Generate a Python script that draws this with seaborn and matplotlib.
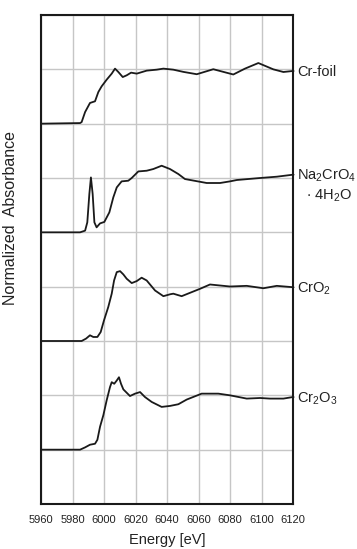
import numpy as np
import pandas as pd
import matplotlib
matplotlib.use("Agg")
import matplotlib.pyplot as plt
import seaborn as sns

# ---- data (normalized absorbance) ----
cr_foil_energy = [5960, 5984.8, 5985.8, 5988, 5991.1, 5994.3, 5996.4, 5998.5, 6001.7, 6004.9,
                  6007, 6009.1, 6011.9, 6014.4, 6017.2, 6020.8, 6027.1, 6033.5, 6037.7, 6044,
                  6050.4, 6058.9, 6069.4, 6082.1, 6089.5, 6098, 6107.5, 6113.9, 6120]
cr_foil_mu = [0, 0.011, 0.029, 0.214, 0.381, 0.412, 0.582, 0.687, 0.810, 0.921,
              1.013, 0.951, 0.858, 0.890, 0.939, 0.921, 0.976, 0.994, 1.013, 0.994,
              0.953, 0.910, 1.002, 0.905, 1.013, 1.116, 1.000, 0.951, 0.970]

na2cro4_energy = [5960, 5984.8, 5988, 5989.4, 5990.7, 5991.7, 5992.8, 5993.9, 5995.3, 5997.5,
                  6000.2, 6003.4, 6005.9, 6008.1, 6011.2, 6015.4, 6017.6, 6021.8, 6027.1, 6031.3,
                  6036.6, 6041.9, 6047.2, 6051.4, 6065.2, 6073.7, 6080, 6084.3, 6099.1, 6109.7, 6120]
na2cro4_mu = [0, 0, 0.031, 0.184, 0.706, 1.011, 0.706, 0.184, 0.092, 0.165,
              0.191, 0.368, 0.643, 0.827, 0.938, 0.950, 1.000, 1.121, 1.134, 1.165,
              1.226, 1.165, 1.073, 0.981, 0.908, 0.908, 0.938, 0.963, 1.000, 1.024, 1.061]

cro2_energy = [5960, 5985.8, 5988.6, 5991.1, 5993.2, 5995.8, 5997.9, 6000, 6002.7, 6004.9,
               6006.4, 6008.1, 6010.2, 6012.3, 6014.4, 6017.6, 6020.8, 6023.9, 6027.1, 6032.4,
               6037.7, 6042, 6044, 6049.3, 6061, 6067.3, 6080, 6090.6, 6101.2, 6109.7, 6120]
cro2_mu = [0, 0, 0.044, 0.105, 0.074, 0.074, 0.165, 0.380, 0.625, 0.871,
           1.114, 1.268, 1.286, 1.225, 1.146, 1.066, 1.103, 1.165, 1.114, 0.930,
           0.825, 0.860, 0.871, 0.825, 0.961, 1.040, 1.003, 1.015, 0.971, 1.015, 0.990]

cr2o3_energy = [5960, 5984.8, 5988, 5991.1, 5994.3, 5995.8, 5997.5, 5999.6, 6001.7, 6003.8,
                6004.9, 6006.5, 6008.1, 6009.5, 6010.8, 6012.3, 6016.5, 6019.7, 6022.9, 6026,
                6030.3, 6036.6, 6041.9, 6047.2, 6052.5, 6062, 6072.6, 6080, 6090.6, 6099.1,
                6105.4, 6113.9, 6120]
cr2o3_mu = [0, 0, 0.042, 0.091, 0.109, 0.182, 0.424, 0.636, 0.909, 1.151,
            1.242, 1.213, 1.273, 1.333, 1.213, 1.109, 0.987, 1.031, 1.060, 0.969,
            0.878, 0.787, 0.805, 0.836, 0.922, 1.031, 1.031, 1.000, 0.940, 0.951,
            0.940, 0.940, 0.969]

x_ticks = [5960, 5980, 6000, 6020, 6040, 6060, 6080, 6100, 6120]

# ---- styling ----
sns.set_theme(style="white")
plt.rcParams["font.family"] = ["Liberation Sans", "DejaVu Sans"]
plt.rcParams["mathtext.fontset"] = "custom"
plt.rcParams["mathtext.rm"] = "Liberation Sans"
plt.rcParams["mathtext.it"] = "Liberation Sans"
plt.rcParams["mathtext.default"] = "regular"

fig = plt.figure(figsize=(3.57, 5.49), dpi=100)
ax = fig.add_axes([41 / 357, 1 - 504 / 549, 252 / 357, 489 / 549])

series = [
    ("Cr-foil", cr_foil_energy, cr_foil_mu, 7),
    ("Na2CrO4", na2cro4_energy, na2cro4_mu, 5),
    ("CrO2", cro2_energy, cro2_mu, 3),
    ("Cr2O3", cr2o3_energy, cr2o3_mu, 1),
]

frames = []
for name, e, mu, off in series:
    frames.append(pd.DataFrame({"energy": e, "value": np.array(mu) + off, "sample": name}))
df = pd.concat(frames, ignore_index=True)

sns.lineplot(data=df, x="energy", y="value", units="sample", estimator=None,
             color="#1a1a1a", linewidth=1.3, ax=ax, legend=False, sort=False)

ax.set_xlim(5960, 6120)
ax.set_ylim(0, 9)
ax.set_xticks(x_ticks)
ax.set_xticklabels([str(t) for t in x_ticks], fontsize=8, color="#222222")
ax.set_yticks(range(0, 10))
ax.set_yticklabels([])
ax.tick_params(axis="both", length=0)
ax.tick_params(axis="x", pad=8)
ax.grid(True, color="#c6c6c6", linewidth=1.0)
ax.set_axisbelow(True)
for sp in ax.spines.values():
    sp.set_color("#1a1a1a")
    sp.set_linewidth(1.5)

ax.set_xlabel("Energy [eV]", fontsize=10.5, color="#222222", labelpad=5.5)
ax.set_ylabel("Normalized  Absorbance", fontsize=11.5, color="#222222")
ax.yaxis.set_label_coords(-0.091, 0.585)

labels = {
    "Cr-foil": "Cr-foil",
    "Na2CrO4": r"Na$_2$CrO$_4$",
    "CrO2": r"CrO$_2$",
    "Cr2O3": r"Cr$_2$O$_3$",
}
for name, e, mu, off in series:
    yend = mu[-1] + off
    ax.annotate(labels[name], xy=(e[-1], yend), xytext=(3, -1), textcoords="offset points",
                ha="left", va="center", fontsize=10.5, color="#222222",
                annotation_clip=False,
                arrowprops=dict(arrowstyle="-", color="#1a1a1a", lw=1.0, shrinkA=0, shrinkB=0))
    if name == "Na2CrO4":
        ax.annotate(r"$\cdot$ 4H$_2$O", xy=(e[-1], yend), xytext=(9, -15),
                    textcoords="offset points", ha="left", va="center",
                    fontsize=10.5, color="#222222", annotation_clip=False)

fig.savefig("out.png", dpi=100)
